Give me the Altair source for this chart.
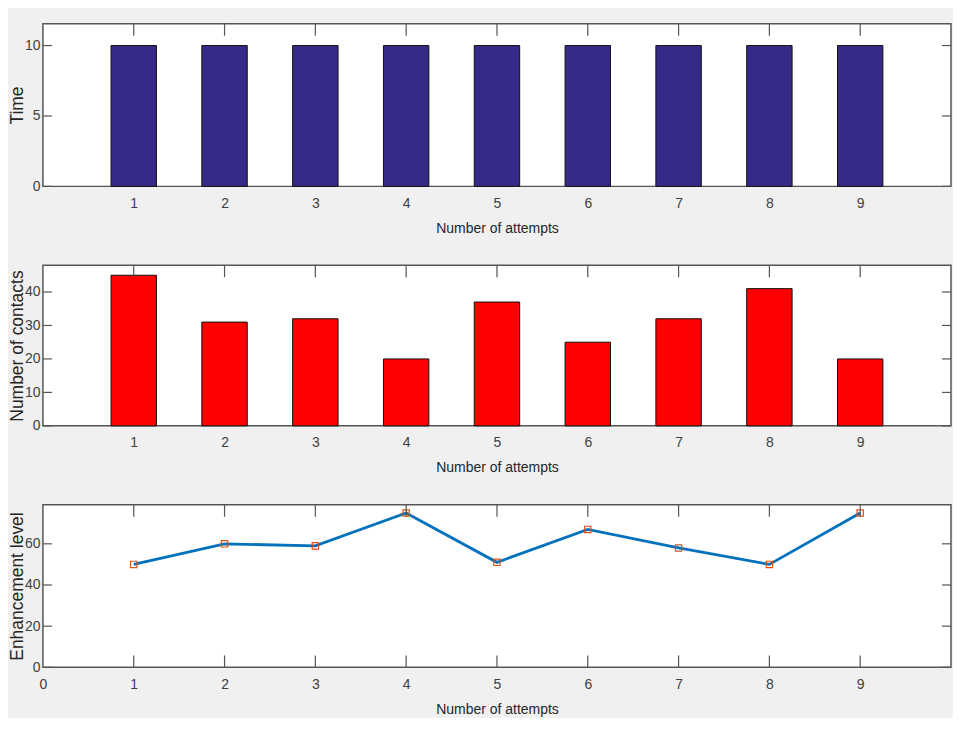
import altair as alt
import pandas as pd

ATTEMPTS = [1, 2, 3, 4, 5, 6, 7, 8, 9]
TIME = [10, 10, 10, 10, 10, 10, 10, 10, 10]
CONTACTS = [45, 31, 32, 20, 37, 25, 32, 41, 20]
ENHANCEMENT = [50, 60, 59, 75, 51, 67, 58, 50, 75]

X_TICKS = [1, 2, 3, 4, 5, 6, 7, 8, 9]
X_LABELS_LAST = [0, 1, 2, 3, 4, 5, 6, 7, 8, 9]
Y_TICKS_TIME = [0, 5, 10]
Y_TICKS_CONTACTS = [0, 10, 20, 30, 40]
Y_TICKS_ENH = [0, 20, 40, 60]

W = 910
FONT = "Liberation Sans, Arial, sans-serif"
AXIS_COLOR = "#555555"


def x_axis(values):
    return alt.Axis(values=values, title="Number of attempts", grid=False, domain=False,
                    ticks=False, labelFont=FONT, labelFontSize=14, labelColor="#404040",
                    labelPadding=10, labelFlush=False, titleFont=FONT, titleFontSize=14,
                    titleFontWeight="normal", titleColor="#262626", titleBaseline="alphabetic",
                    titleY=46)


def y_axis(values, title):
    return alt.Axis(values=values, title=title, grid=False, domain=False, ticks=False,
                    labelFont=FONT, labelFontSize=14, labelColor="#404040", labelPadding=3,
                    titleFont=FONT, titleFontSize=17.5, titleFontWeight="normal",
                    titleColor="#262626", titleBaseline="alphabetic", titleX=-20, titleAngle=270)


def panel(main_layers, yticks, ydom, h, ytitle, xlabels=X_TICKS):
    xsc = alt.Scale(domain=[0, 10], nice=False, zero=False)
    ysc = alt.Scale(domain=ydom, nice=False)
    xa = x_axis(xlabels)
    ya = y_axis(yticks, ytitle)
    xs = pd.DataFrame({"t": X_TICKS})
    ys = pd.DataFrame({"v": yticks})
    top = alt.Chart(xs).mark_rule(color=AXIS_COLOR, strokeWidth=1.2).encode(
        x=alt.X("t:Q", scale=xsc, axis=xa), y=alt.value(0), y2=alt.value(12))
    bot = alt.Chart(xs).mark_rule(color=AXIS_COLOR, strokeWidth=1.2).encode(
        x=alt.X("t:Q", scale=xsc, axis=xa), y=alt.value(h - 12), y2=alt.value(h))
    left = alt.Chart(ys).mark_rule(color=AXIS_COLOR, strokeWidth=1.2).encode(
        y=alt.Y("v:Q", scale=ysc, axis=ya), x=alt.value(0), x2=alt.value(9))
    right = alt.Chart(ys).mark_rule(color=AXIS_COLOR, strokeWidth=1.2).encode(
        y=alt.Y("v:Q", scale=ysc, axis=ya), x=alt.value(W - 9), x2=alt.value(W))
    mains = [m(xsc, ysc, xa, ya) for m in main_layers]
    return alt.layer(bot, *mains, top, left, right).properties(width=W, height=h)


df = pd.DataFrame({"attempt": ATTEMPTS, "time": TIME, "contacts": CONTACTS,
                   "enh": ENHANCEMENT})


def bars(field, color):
    def make(xsc, ysc, xa, ya):
        return alt.Chart(df).transform_calculate(
            x0="datum.attempt - 0.25", x1="datum.attempt + 0.25"
        ).mark_bar(color=color, stroke="#111111", strokeWidth=1).encode(
            x=alt.X("x0:Q", scale=xsc, axis=xa),
            x2="x1:Q",
            y=alt.Y(f"{field}:Q", scale=ysc, axis=ya),
            y2=alt.datum(0),
        )
    return make


def line_layer(xsc, ysc, xa, ya):
    return alt.Chart(df).mark_line(color="#0072BD", strokeWidth=2.8).encode(
        x=alt.X("attempt:Q", scale=xsc, axis=xa), y=alt.Y("enh:Q", scale=ysc, axis=ya))


def point_layer(xsc, ysc, xa, ya):
    return alt.Chart(df).mark_point(shape="square", filled=False, color="#D95319", size=40,
                                    strokeWidth=1.2, opacity=1).encode(
        x=alt.X("attempt:Q", scale=xsc, axis=xa), y=alt.Y("enh:Q", scale=ysc, axis=ya))


p1 = panel([bars("time", "#352a87")], Y_TICKS_TIME, [0, 11.55], 163, "Time")
p2 = panel([bars("contacts", "#ff0000")], Y_TICKS_CONTACTS, [0, 48], 161, "Number of contacts")
p3 = panel([line_layer, point_layer], Y_TICKS_ENH, [0, 79], 163, "Enhancement level",
           xlabels=X_LABELS_LAST)

chart = alt.vconcat(p1, p2, p3, spacing=79, bounds="flush").properties(
    background="#f0f0f0",
    padding={"left": 0, "top": 13, "right": 0, "bottom": 0},
).configure_view(fill="white", stroke=AXIS_COLOR, strokeWidth=1.5)

chart.save("out.html", embed_options={"renderer": "svg", "actions": False})
